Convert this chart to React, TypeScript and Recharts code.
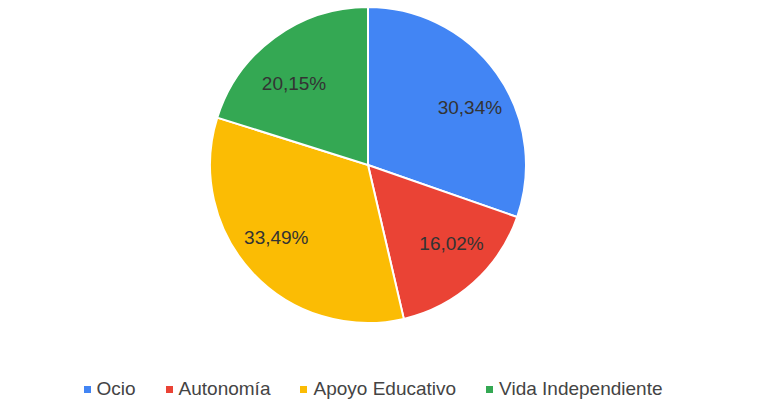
import { PieChart, Pie, Cell, Legend } from "recharts";

const categories = ["Ocio", "Autonomía", "Apoyo Educativo", "Vida Independiente"];
const shares = [30.34, 16.02, 33.49, 20.15];
const colors = ["#4285F4", "#EA4335", "#FBBC04", "#34A853"];

const data = categories.map((name, i) => ({ name, value: shares[i] }));

const RADIAN = Math.PI / 180;
const FONT = "'Liberation Sans', Arial, sans-serif";

// labels sit a bit wider than tall, like the google chart does
const renderLabel = (props: any) => {
  const { cx, cy, midAngle, value } = props;
  const x = cx + 125 * Math.cos(-midAngle * RADIAN);
  const y = cy + 103 * Math.sin(-midAngle * RADIAN) + 2;
  return (
    <text
      x={x}
      y={y}
      fill="#333"
      textAnchor="middle"
      dominantBaseline="central"
      fontSize={19}
      fontFamily={FONT}
    >
      {value.toFixed(2).replace(".", ",") + "%"}
    </text>
  );
};

// keep legend in data order (recharts sorts payload otherwise)
const renderLegend = () => (
  <div style={{ display: "flex", justifyContent: "center", gap: 30, fontFamily: FONT, fontSize: 19, color: "#444" }}>
    {categories.map((name, i) => (
      <div key={name} style={{ display: "flex", alignItems: "center" }}>
        <span style={{ width: 7, height: 7, background: colors[i], marginRight: 6, display: "inline-block" }} />
        <span>{name}</span>
      </div>
    ))}
  </div>
);

export default function App() {
  return (
    <div style={{ position: "absolute", left: 0, top: 0, background: "#fff" }}>
      <PieChart width={768} height={406} margin={{ top: 0, right: 0, bottom: 0, left: 0 }}>
        <Pie
          data={data}
          dataKey="value"
          nameKey="name"
          cx={368}
          cy={165}
          outerRadius={158}
          startAngle={90}
          endAngle={-270}
          stroke="#fff"
          strokeWidth={2}
          label={renderLabel}
          labelLine={false}
          isAnimationActive={false}
        >
          {data.map((d, i) => (
            <Cell key={d.name} fill={colors[i]} />
          ))}
        </Pie>
        <Legend
          content={renderLegend}
          wrapperStyle={{ position: "absolute", top: 378, left: 0, width: 746 }}
        />
      </PieChart>
    </div>
  );
}
